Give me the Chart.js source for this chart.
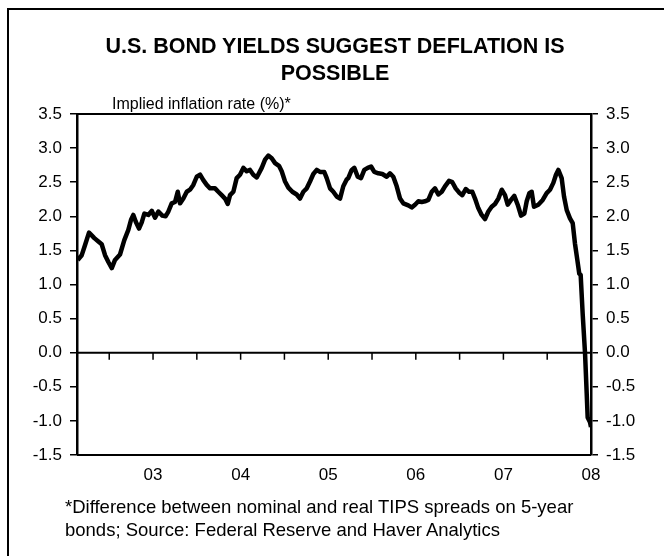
<!DOCTYPE html>
<html lang="en">
<head>
  <meta charset="UTF-8">
  <title>U.S. Bond Yields Suggest Deflation Is Possible</title>
  <script src="https://cdn.jsdelivr.net/npm/chart.js"></script>
  <style>
    * { margin: 0; padding: 0; box-sizing: border-box; }
    body { background: #fff; font-family: "Liberation Sans", Arial, sans-serif; color: #000; }
    #wrap { position: relative; width: 664px; height: 556px; overflow: hidden; }
    #chart { position: absolute; left: 0; top: 0; }
    .frame {
      position: absolute; left: 7px; top: 8px; width: 700px; height: 600px;
      border-left: 2px solid #000; border-top: 2px solid #000;
    }
    .title {
      position: absolute; left: 0; top: 33px; width: 670px;
      text-align: center; font-weight: bold; font-size: 21.5px; line-height: 27px;
    }
    .ytitle { position: absolute; left: 112px; top: 94px; font-size: 16px; line-height: 19px; }
    .note { position: absolute; left: 65px; top: 495px; font-size: 18.5px; line-height: 23px; }
  </style>
</head>
<body>
  <div id="wrap">
    <div class="frame"></div>
    <canvas id="chart" width="664" height="556"></canvas>
    <div class="title">U.S. BOND YIELDS SUGGEST DEFLATION IS<br>POSSIBLE</div>
    <div class="ytitle">Implied inflation rate (%)*</div>
    <div class="note">*Difference between nominal and real TIPS spreads on 5-year<br>bonds; Source: Federal Reserve and Haver Analytics</div>
  </div>

  <script>
    // Implied inflation rate, % (decimal year on x)
    const years = [
      2002.140, 2002.186, 2002.224, 2002.269, 2002.300, 2002.330, 2002.376, 2002.414, 2002.452, 2002.490,
      2002.529, 2002.566, 2002.623, 2002.672, 2002.718, 2002.749, 2002.775, 2002.803, 2002.840, 2002.871,
      2002.901, 2002.946, 2002.985, 2003.023, 2003.061, 2003.106, 2003.143, 2003.175, 2003.213, 2003.251,
      2003.282, 2003.308, 2003.346, 2003.385, 2003.422, 2003.460, 2003.499, 2003.537, 2003.574, 2003.613,
      2003.651, 2003.708, 2003.745, 2003.784, 2003.822, 2003.853, 2003.879, 2003.917, 2003.955, 2003.993,
      2004.031, 2004.070, 2004.107, 2004.145, 2004.184, 2004.241, 2004.279, 2004.316, 2004.355, 2004.393,
      2004.438, 2004.469, 2004.507, 2004.545, 2004.590, 2004.640, 2004.678, 2004.716, 2004.755, 2004.792,
      2004.830, 2004.869, 2004.906, 2004.955, 2004.983, 2005.021, 2005.058, 2005.097, 2005.135, 2005.172,
      2005.211, 2005.229, 2005.268, 2005.298, 2005.337, 2005.374, 2005.412, 2005.451, 2005.489, 2005.526,
      2005.572, 2005.618, 2005.668, 2005.705, 2005.743, 2005.782, 2005.820, 2005.857, 2005.914, 2005.953,
      2005.991, 2006.029, 2006.067, 2006.105, 2006.143, 2006.182, 2006.219, 2006.257, 2006.296, 2006.333,
      2006.379, 2006.417, 2006.455, 2006.493, 2006.531, 2006.570, 2006.607, 2006.645, 2006.676, 2006.713,
      2006.752, 2006.790, 2006.828, 2006.866, 2006.904, 2006.942, 2006.981, 2007.018, 2007.049, 2007.087,
      2007.124, 2007.163, 2007.201, 2007.239, 2007.266, 2007.296, 2007.323, 2007.349, 2007.398, 2007.449,
      2007.494, 2007.532, 2007.570, 2007.600, 2007.627, 2007.665, 2007.692, 2007.723, 2007.760, 2007.791,
      2007.817, 2007.844, 2007.866, 2007.882, 2007.905, 2007.932, 2007.951, 2007.962, 2007.989, 2008.000
    ];
    const rates = [
      1.36, 1.43, 1.58, 1.76, 1.72, 1.68, 1.63, 1.59, 1.43, 1.33,
      1.24, 1.36, 1.44, 1.65, 1.80, 1.95, 2.02, 1.92, 1.82, 1.91,
      2.04, 2.02, 2.08, 1.98, 2.07, 2.01, 2.00, 2.07, 2.19, 2.21,
      2.36, 2.19, 2.26, 2.36, 2.39, 2.46, 2.58, 2.61, 2.53, 2.46,
      2.41, 2.41, 2.36, 2.31, 2.26, 2.18, 2.31, 2.36, 2.56, 2.61,
      2.71, 2.66, 2.68, 2.61, 2.57, 2.71, 2.83, 2.89, 2.85, 2.78,
      2.74, 2.66, 2.51, 2.42, 2.36, 2.32, 2.26, 2.36, 2.41, 2.51,
      2.62, 2.68, 2.65, 2.65, 2.56, 2.41, 2.36, 2.29, 2.26, 2.44,
      2.54, 2.56, 2.68, 2.71, 2.58, 2.56, 2.68, 2.71, 2.73, 2.65,
      2.63, 2.62, 2.58, 2.63, 2.58, 2.44, 2.26, 2.19, 2.16, 2.13,
      2.17, 2.22, 2.21, 2.22, 2.24, 2.36, 2.41, 2.32, 2.36, 2.44,
      2.52, 2.50, 2.41, 2.35, 2.31, 2.40, 2.36, 2.36, 2.26, 2.12,
      2.02, 1.96, 2.07, 2.14, 2.18, 2.26, 2.39, 2.31, 2.17, 2.24,
      2.30, 2.17, 2.01, 2.04, 2.22, 2.34, 2.36, 2.14, 2.17, 2.24,
      2.34, 2.39, 2.49, 2.61, 2.68, 2.56, 2.29, 2.09, 1.97, 1.90,
      1.60, 1.36, 1.16, 1.14, 0.57, -0.01, -0.60, -0.95, -1.02, -1.09
    ];
    const yearLabels = { 2003: '03', 2004: '04', 2005: '05', 2006: '06', 2007: '07', 2008: '08' };
    const xMin = 2002.132, xMax = 2008;
    const yMin = -1.5, yMax = 3.5, yStep = 0.5;

    const FONT = '"Liberation Sans", Arial, sans-serif';

    // plot frame plus the zero line carrying the half-year tick marks
    const framePlugin = {
      id: 'frame',
      beforeDatasetsDraw(chart) {
        const { ctx, chartArea: a, scales } = chart;
        const y0 = scales.y.getPixelForValue(0);
        ctx.save();
        ctx.strokeStyle = '#000';
        ctx.lineWidth = 2;
        ctx.beginPath();
        ctx.moveTo(a.left, a.top); ctx.lineTo(a.right, a.top);
        ctx.moveTo(a.left, a.bottom); ctx.lineTo(a.right, a.bottom);
        ctx.moveTo(a.left, y0); ctx.lineTo(a.right, y0);
        ctx.stroke();
        ctx.lineWidth = 1.5;
        ctx.beginPath();
        scales.x.ticks.forEach(t => {
          const px = scales.x.getPixelForValue(t.value);
          if (px >= a.right - 1) return;
          ctx.moveTo(px, y0); ctx.lineTo(px, y0 + 7);
        });
        ctx.stroke();
        ctx.restore();
      }
    };

    const yAxis = (position, width) => ({
      position,
      min: yMin,
      max: yMax,
      ticks: {
        stepSize: yStep,
        color: '#000',
        padding: 8,
        font: { family: FONT, size: 17 },
        callback: v => v.toFixed(1)
      },
      grid: { drawOnChartArea: false, color: '#000', lineWidth: 1.5, tickLength: 7 },
      border: { color: '#000', width: 2.5 },
      afterFit(s) { s.width = width; }
    });

    new Chart(document.getElementById('chart'), {
      type: 'line',
      data: {
        datasets: [{
          data: years.map((x, i) => ({ x, y: rates[i] })),
          borderColor: '#000',
          borderWidth: 4.5,
          borderJoinStyle: 'round',
          pointRadius: 0,
          tension: 0
        }]
      },
      options: {
        responsive: false,
        animation: false,
        devicePixelRatio: 1,
        layout: { padding: { top: 114, left: 0, right: 0, bottom: 0 } },
        plugins: { legend: { display: false }, tooltip: { enabled: false } },
        scales: {
          x: {
            type: 'linear',
            min: xMin,
            max: xMax,
            ticks: {
              stepSize: 0.5,
              includeBounds: false,
              autoSkip: false,
              maxRotation: 0,
              color: '#000',
              padding: 10,
              font: { family: FONT, size: 17 },
              callback: v => yearLabels[v] || ''
            },
            grid: { display: false, drawTicks: false },
            border: { display: false },
            afterFit(s) { s.height = 101; }
          },
          y: yAxis('left', 77),
          y2: yAxis('right', 73)
        }
      },
      plugins: [framePlugin]
    });
  </script>
</body>
</html>
